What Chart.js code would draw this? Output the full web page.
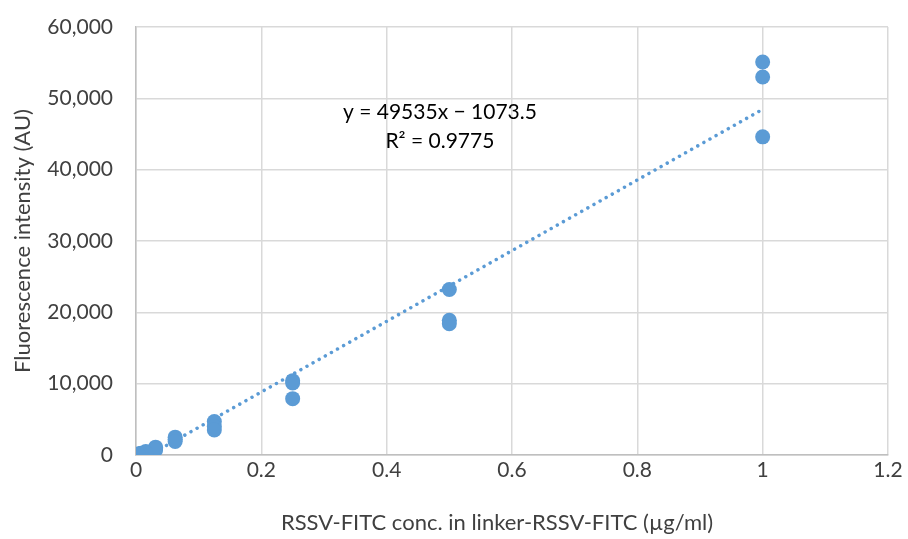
<!DOCTYPE html>
<html>
<head>
<meta charset="utf-8">
<script src="https://cdn.jsdelivr.net/npm/chart.js@4/dist/chart.umd.min.js"></script>
<style>
    html, body { margin: 0; padding: 0; background: #fff; }
    #wrap { width: 908px; height: 539px; position: relative; }
</style>
</head>
<body>
<div id="wrap"><canvas id="chart" width="908" height="539"></canvas></div>
<script>
const concentrations = [1, 0.5, 0.25, 0.125, 0.0625, 0.03125, 0.015625, 0.0078125, 0.00390625, 0];
const replicate1 = [55100, 23200, 10400, 4700, 2500, 1100, 500, 250, 150, 50];
const replicate2 = [53000, 18900, 10100, 4000, 2200, 900, 400, 200, 100, 30];
const replicate3 = [44600, 18400, 7900, 3500, 1900, 700, 300, 150, 80, 20];

const slope = 49535;
const intercept = -1073.5;
const trendRange = [0, 1];
const equationLines = ["y = 49535x \u2212 1073.5", "R\u00b2 = 0.9775"];
const xTitle = "RSSV-FITC conc. in linker-RSSV-FITC (\u00b5g/ml)";
const yTitle = "Fluorescence intensity (AU)";

const xTicks = [0, 0.2, 0.4, 0.6, 0.8, 1, 1.2];
const yTicks = [0, 10000, 20000, 30000, 40000, 50000, 60000];

const blue = "#5B9BD5";
const textDark = "#404040";
const font = "Lato, 'Open Sans', sans-serif";

const points = [];
[replicate1, replicate2, replicate3].forEach(rep => {
    rep.forEach((v, i) => points.push({ x: concentrations[i], y: v }));
});

const trend = trendRange.map(x => ({ x: x, y: slope * x + intercept }));

// equation box and the x title (excel centres it a bit left of the plot)
const extraText = {
    id: "extraText",
    afterDatasetsDraw(chart) {
        const { ctx, scales, chartArea } = chart;
        const cx = scales.x.getPixelForValue(0.485);
        const cy = scales.y.getPixelForValue(48000);
        ctx.save();
        ctx.fillStyle = "#000";
        ctx.font = "21px " + font;
        ctx.textAlign = "center";
        ctx.textBaseline = "middle";
        ctx.fillText(equationLines[0], cx, cy);
        ctx.fillText(equationLines[1], cx, cy + 29);

        ctx.fillStyle = textDark;
        ctx.font = "22px " + font;
        ctx.fillText(xTitle, (chartArea.left + chartArea.right) / 2 - 15, chart.height - 16);
        ctx.restore();
    }
};

new Chart(document.getElementById("chart"), {
    type: "scatter",
    data: {
        datasets: [
            {
                label: "Linear",
                data: trend,
                showLine: true,
                borderColor: blue,
                borderWidth: 3.5,
                borderDash: [0.01, 7],
                borderCapStyle: "round",
                pointRadius: 0,
                order: 2
            },
            {
                label: "Data",
                data: points,
                backgroundColor: blue,
                borderColor: blue,
                pointRadius: 7.5,
                pointBorderWidth: 0,
                order: 1
            }
        ]
    },
    plugins: [extraText],
    options: {
        responsive: false,
        animation: false,
        layout: { padding: { top: 27, right: 20, left: 0, bottom: 0 } },
        plugins: {
            legend: { display: false },
            tooltip: { enabled: false }
        },
        scales: {
            x: {
                type: "linear",
                min: 0,
                max: 1.2,
                afterBuildTicks: s => { s.ticks = xTicks.map(v => ({ value: v })); },
                afterFit: s => { s.height = 84; },
                ticks: {
                    color: textDark,
                    font: { family: font, size: 21 },
                    padding: 3,
                    callback: v => String(Math.round(v * 10) / 10)
                },
                grid: { color: "#d9d9d9", lineWidth: 1.5, drawTicks: false },
                border: { color: "#bfbfbf", width: 1.5 },
                title: { display: false }
            },
            y: {
                min: 0,
                max: 60000,
                afterBuildTicks: s => { s.ticks = yTicks.map(v => ({ value: v })); },
                afterFit: s => {
                    s.width = 136;
                    s.paddingTop = 0;
                    s.paddingBottom = 0;
                },
                ticks: {
                    color: textDark,
                    font: { family: font, size: 21 },
                    padding: 23,
                    callback: v => v.toLocaleString("en-US")
                },
                grid: { color: "#d9d9d9", lineWidth: 1.5, drawTicks: false },
                border: { color: "#bfbfbf", width: 1.5 },
                title: {
                    display: true,
                    text: yTitle,
                    color: textDark,
                    font: { family: font, size: 22 },
                    padding: { top: 10, bottom: 0 }
                }
            }
        }
    }
});
</script>
</body>
</html>
